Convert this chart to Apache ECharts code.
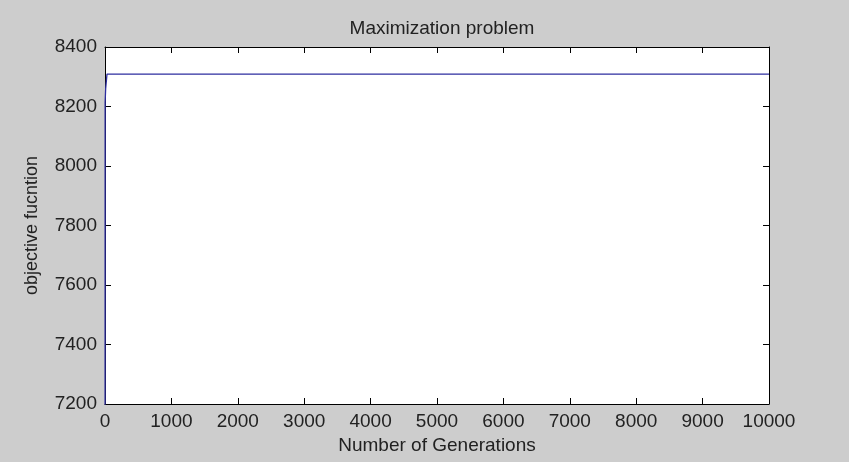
<!DOCTYPE html>
<html style="height: 100%">

<head>
  <meta charset="utf-8">
</head>

<body style="height: 100%; margin: 0; background: #cdcdcd">
  <div id="container" style="width: 849px; height: 462px"></div>
  <script type="text/javascript" src="https://cdn.jsdelivr.net/npm/echarts@6/dist/echarts.min.js"></script>
  <script type="text/javascript">
  // values
  var generations = [1, 2, 10, 30, 10000];
  var objective = [7000, 8215, 8260, 8309, 8309];
  var xTicks = [0, 1000, 2000, 3000, 4000, 5000, 6000, 7000, 8000, 9000, 10000];
  var yTicks = [7200, 7400, 7600, 7800, 8000, 8200, 8400];

  var dom = document.getElementById("container");
  var myChart = echarts.init(dom);
  var font = 'Liberation Sans, Arial, sans-serif';
  var textColor = '#222';
  var fs = 19;

  var axisBase = {
    axisLine: { show: true, onZero: false, lineStyle: { color: '#000', width: 1 } },
    axisTick: { show: true, inside: true, length: 6, lineStyle: { color: '#000' } },
    splitLine: { show: false }
  };
  var plain = function (v) { return String(v); };

  var option = {
    backgroundColor: '#cdcdcd',
    animation: false,
    title: {
      text: 'Maximization problem',
      left: 437,
      textAlign: 'center',
      top: 14,
      textStyle: { fontFamily: font, fontSize: fs, fontWeight: 'normal', color: textColor }
    },
    grid: { left: 105, right: 80, top: 47, bottom: 58, show: true, backgroundColor: '#fff', borderWidth: 0 },
    xAxis: [
      Object.assign({}, axisBase, {
        type: 'value', min: xTicks[0], max: xTicks[xTicks.length - 1], interval: 1000,
        name: 'Number of Generations', nameLocation: 'middle', nameGap: 32,
        nameTextStyle: { fontFamily: font, fontSize: fs, color: textColor },
        axisLabel: { fontFamily: font, fontSize: fs, color: textColor, margin: 8, formatter: plain }
      }),
      Object.assign({}, axisBase, {
        type: 'value', position: 'top', min: xTicks[0], max: xTicks[xTicks.length - 1], interval: 1000,
        axisLabel: { show: false }
      })
    ],
    yAxis: [
      Object.assign({}, axisBase, {
        type: 'value', min: yTicks[0], max: yTicks[yTicks.length - 1], interval: 200,
        name: 'objective fucntion', nameLocation: 'middle', nameGap: 64, nameRotate: 90,
        nameTextStyle: { fontFamily: font, fontSize: 18, color: textColor },
        axisLabel: { fontFamily: font, fontSize: fs, color: textColor, margin: 8, formatter: plain }
      }),
      Object.assign({}, axisBase, {
        type: 'value', position: 'right', min: yTicks[0], max: yTicks[yTicks.length - 1], interval: 200,
        axisLabel: { show: false }
      })
    ],
    series: [{
      type: 'line',
      data: generations.map(function (g, i) { return [g, objective[i]]; }),
      showSymbol: false,
      clip: true,
      lineStyle: { color: '#2e2ea0', width: 1.3 }
    }]
  };

  myChart.setOption(option);
  </script>
</body>

</html>
